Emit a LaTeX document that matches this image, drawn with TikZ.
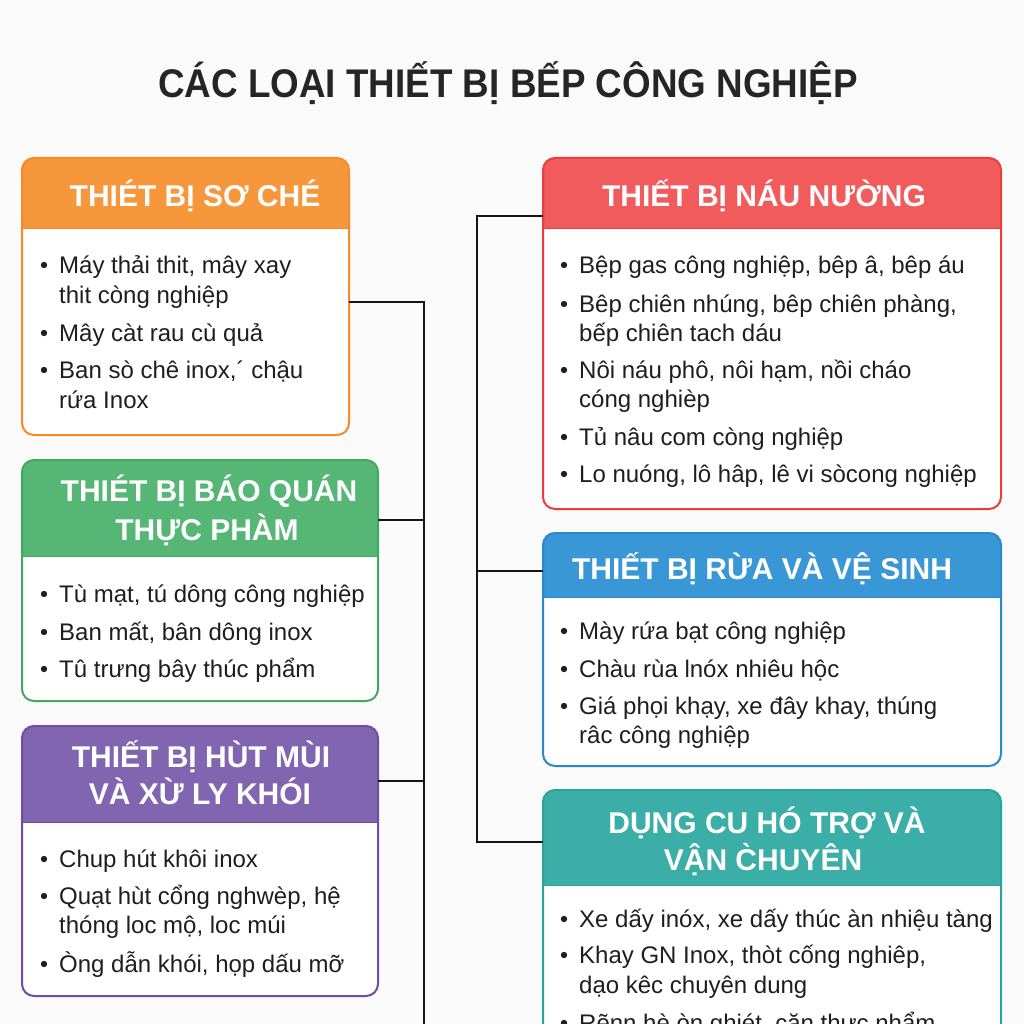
\documentclass[tikz,border=0pt]{standalone}
\usepackage{fontspec}
\setmainfont{Liberation Sans}
\usepackage{graphicx}
\definecolor{bgcol}{HTML}{FAFAFA}
\definecolor{linecol}{HTML}{151515}
\definecolor{txtcol}{HTML}{1E1E1E}
\definecolor{titlecol}{HTML}{252525}
\definecolor{orH}{HTML}{F7973B}\definecolor{orB}{HTML}{F68A26}
\definecolor{grH}{HTML}{55B676}\definecolor{grB}{HTML}{40AA62}
\definecolor{puH}{HTML}{8165B0}\definecolor{puB}{HTML}{6F4DA6}
\definecolor{reH}{HTML}{F15B5B}\definecolor{reB}{HTML}{EB3D3D}
\definecolor{blH}{HTML}{3A97D5}\definecolor{blB}{HTML}{2A88CD}
\definecolor{teH}{HTML}{3BAEA7}\definecolor{teB}{HTML}{27A49C}
\newcommand\catbox[8]{%
  \node[boxnode, minimum width=#4pt, minimum height=#5pt] (#1) at (#2,#3) {};
  \fill[#7] (#2,{#3+#6}) {[rounded corners=12pt] -- (#2,#3) -- ({#2+#4},#3)} -- ({#2+#4},{#3+#6}) -- cycle;
  \draw[#8, line width=1pt] (#2,{#3+#6}) -- ({#2+#4},{#3+#6});
  \draw[#8, line width=2pt, rounded corners=12pt] (#1.north west) rectangle (#1.south east);
}
\newcommand\bl[4]{\node[bodytxt] (#1) at (#2,#3) {#4};}
\newcommand\bu[2]{\fill[txtcol] (#1,{#2-8}) circle (3.2pt);}
\begin{document}
\begin{tikzpicture}[x=1pt,y=-1pt,
  conn/.style={line width=2.6pt, draw=linecol},
  boxnode/.style={rectangle, rounded corners=12pt, fill=white, draw=none, inner sep=0pt, outer sep=0pt, anchor=north west},
  headtxt/.style={text=white, font=\fontsize{30}{36}\selectfont\bfseries, inner sep=0pt, anchor=base},
  bodytxt/.style={text=txtcol, font=\fontsize{24}{30}\selectfont, inner sep=0pt, anchor=base west}]
\useasboundingbox (0,0) rectangle (1024,1024);
\clip (0,0) rectangle (1024,1024);
\fill[bgcol] (0,0) rectangle (1024,1024);

\node[anchor=base, inner sep=0pt, text=titlecol] (title) at (508,98)
  {\scalebox{0.92}[1]{\fontsize{40}{48}\selectfont\bfseries CÁC LOẠI THIẾT BỊ BẾP CÔNG NGHIỆP}};

% boxes
\catbox{b1}{22}{158}{327}{277}{71}{orH}{orB}
\catbox{b2}{22}{460}{356}{241}{96}{grH}{grB}
\catbox{b3}{22}{726}{356}{270}{96}{puH}{puB}
\catbox{b4}{543}{158}{458}{351}{71}{reH}{reB}
\catbox{b5}{543}{533}{458}{233}{64}{blH}{blB}
\catbox{b6}{543}{790}{458}{290}{95}{teH}{teB}

% connectors
\coordinate (L1) at (424,302);
\coordinate (L2) at (424,520);
\coordinate (L3) at (424,781);
\coordinate (Lend) at (424,1030);
\coordinate (R1) at (477,216);
\coordinate (R2) at (477,571);
\coordinate (R3) at (477,842);
\draw[conn] (b1.east |- L1) -- (L1) -- (Lend);
\draw[conn] (b2.east |- L2) -- (L2);
\draw[conn] (b3.east |- L3) -- (L3);
\draw[conn] (b4.west |- R1) -- (R1) -- (R3) -- (b6.west |- R3);
\draw[conn] (R2) -- (b5.west |- R2);

% headers
\node[headtxt] (h1) at (195,207) {THIÉT BỊ SƠ CHÉ};
\node[headtxt] (h2a) at (209,501) {THIÉT BỊ BÁO QUÁN};
\node[headtxt] (h2b) at (207,540) {THỰC PHÀM};
\node[headtxt] (h3a) at (201,767) {THIẾT BỊ HÙT MÙI};
\node[headtxt] (h3b) at (200,804) {VÀ XỪ LY KHÓI};
\node[headtxt] (h4) at (764,207) {THIẾT BỊ NÁU NƯỜNG};
\node[headtxt] (h5) at (762,579) {THIẾT BỊ RỪA VÀ VỆ SINH};
\node[headtxt] (h6a) at (767,833) {DỤNG CU HÓ TRỢ VÀ};
\node[headtxt] (h6b) at (763,870) {VẬN C̀HUYÊN};

% box 1 body
\bu{44}{273}\bl{t1a}{59}{273}{Máy thải thit, mây xay}
\bl{t1b}{59}{303}{thit còng nghiệp}
\bu{44}{341}\bl{t1c}{59}{341}{Mây càt rau cù quả}
\bu{44}{378}\bl{t1d}{59}{378}{Ban sò chê inox,´ chậu}
\bl{t1e}{59}{408}{rứa Inox}

% box 2 body
\bu{44}{602}\bl{t2a}{59}{602}{Tù mạt, tú dông công nghiệp}
\bu{44}{640}\bl{t2b}{59}{640}{Ban mất, bân dông inox}
\bu{44}{677}\bl{t2c}{59}{677}{Tû trưng bây thúc phẩm}

% box 3 body
\bu{44}{867}\bl{t3a}{59}{867}{Chup hút khôi inox}
\bu{44}{904}\bl{t3b}{59}{904}{Quạt hùt cổng nghwèp, hệ}
\bl{t3c}{59}{933}{thóng loc mộ, loc múi}
\bu{44}{972}\bl{t3d}{59}{972}{Òng dẫn khói, họp dấu mỡ}

% box 4 body
\bu{564}{273}\bl{t4a}{579}{273}{Bệp gas công nghiệp, bêp â, bêp áu}
\bu{564}{312}\bl{t4b}{579}{312}{Bêp chiên nhúng, bêp chiên phàng,}
\bl{t4c}{579}{341}{bếp chiên tach dáu}
\bu{564}{378}\bl{t4d}{579}{378}{Nôi náu phô, nôi hạm, nồi cháo}
\bl{t4e}{579}{407}{cóng nghièp}
\bu{564}{445}\bl{t4f}{579}{445}{Tủ nâu com còng nghiệp}
\bu{564}{482}\bl{t4g}{579}{482}{Lo nuóng, lô hâp, lê vi sòcong nghiệp}

% box 5 body
\bu{564}{639}\bl{t5a}{579}{639}{Mày rứa bạt công nghiệp}
\bu{564}{677}\bl{t5b}{579}{677}{Chàu rùa lnóx nhiêu hộc}
\bu{564}{714}\bl{t5c}{579}{714}{Giá phọi khạy, xe đây khay, thúng}
\bl{t5d}{579}{743}{râc công nghiệp}

% box 6 body
\bu{564}{927}\bl{t6a}{579}{927}{Xe dấy inóx, xe dấy thúc àn nhiệu tàng}
\bu{564}{963}\bl{t6b}{579}{963}{Khay GN Inox, thòt cống nghiêp,}
\bl{t6c}{579}{993}{dạo kêc chuyên dung}
\bu{564}{1031}\bl{t6d}{579}{1031}{Rẽnn hè òn ghiét, căn thực nhẩm}
\end{tikzpicture}
\end{document}
